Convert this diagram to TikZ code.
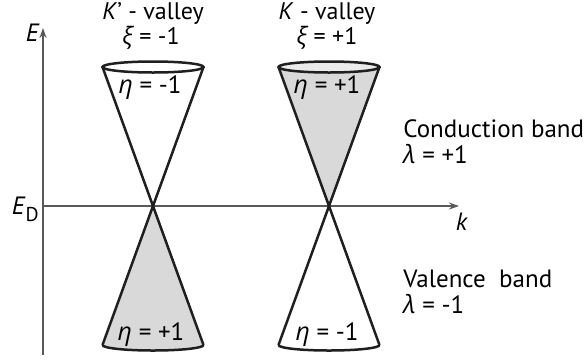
\documentclass[tikz,border=0pt]{standalone}
\usepackage{fontspec}
\setmainfont{PT Sans}
\newfontfamily\greekfont{Open Sans}
\newcommand{\gk}[1]{{\greekfont\itshape #1}}
\usetikzlibrary{arrows.meta}

\begin{document}
\begin{tikzpicture}[
      x=0.5pt, y=-0.5pt,
      axis/.style={draw=black!65, line width=0.8pt, -{Stealth[length=5pt, width=3.5pt]}},
      coneline/.style={draw=black!88, line width=1.25pt},
      band/.style={fill=black!15},
      rimfill/.style={fill=black!8},
      lbl/.style={font=\fontsize{12.5}{15}\selectfont, inner sep=0pt, anchor=base}
    ]
    \useasboundingbox (0,0) rectangle (587,360);

    % axes
    \coordinate (origin) at (43,355);
    \coordinate (etop) at (43,28);
    \coordinate (dleft) at (43,206);
    \coordinate (kend) at (459,206);
    \draw[axis] (origin) -- (etop);
    \draw[axis] (dleft) -- (kend);

    % Dirac points and cone rims
    \coordinate (kpdirac) at (153,206);
    \coordinate (kpcenter) at ([shift={(0,-139)}]kpdirac);
    \coordinate (kptl) at ([shift={(-50.5,-139)}]kpdirac);
    \coordinate (kptr) at ([shift={(50.5,-139)}]kpdirac);
    \coordinate (kpbl) at ([shift={(-50.5,139)}]kpdirac);
    \coordinate (kpbr) at ([shift={(50.5,139)}]kpdirac);

    \coordinate (kdirac) at (329,206);
    \coordinate (kcenter) at ([shift={(0,-139)}]kdirac);
    \coordinate (ktl) at ([shift={(-50.5,-139)}]kdirac);
    \coordinate (ktr) at ([shift={(50.5,-139)}]kdirac);
    \coordinate (kbl) at ([shift={(-50.5,139)}]kdirac);
    \coordinate (kbr) at ([shift={(50.5,139)}]kdirac);

    % filled halves
    \fill[band] (kpdirac) -- (kpbl) arc[start angle=180, end angle=0, x radius=50.5, y radius=5.5] -- cycle;
    \fill[band] (kdirac) -- (ktl) -- (ktr) -- cycle;
    \fill[rimfill] (kcenter) ellipse[x radius=50.5, y radius=5.5];

    % K' cone
    \draw[coneline] (kptl) -- (kpbr);
    \draw[coneline] (kptr) -- (kpbl);
    \draw[coneline] (kpcenter) ellipse[x radius=50.5, y radius=5.5];
    \draw[coneline] (kpbl) arc[start angle=180, end angle=0, x radius=50.5, y radius=5.5];

    % K cone
    \draw[coneline] (ktl) -- (kbr);
    \draw[coneline] (ktr) -- (kbl);
    \draw[coneline] (kcenter) ellipse[x radius=50.5, y radius=5.5];
    \draw[coneline] (kbl) arc[start angle=180, end angle=0, x radius=50.5, y radius=5.5];

    % labels
    \node[lbl, anchor=base east] (elabel) at (40,41) {\textit{E}};
    \node[lbl, anchor=base east] (edlabel) at (39,214) {\textit{E}\raisebox{-3.5pt}{\fontsize{10}{10}\selectfont D}};
    \node[lbl] (klabel) at (462,230) {\textit{k}};

    \node[lbl, font=\fontsize{12}{14}\selectfont] (kpname) at (153,19) {\textit{K}’ - valley};
    \node[lbl, font=\fontsize{12}{14}\selectfont] (kpxi) at (151,44) {\gk{ξ} = -1};
    \node[lbl, font=\fontsize{12}{14}\selectfont] (kname) at (327,19) {\textit{K} - valley};
    \node[lbl, font=\fontsize{12}{14}\selectfont] (kxi) at (327,44) {\gk{ξ} = +1};

    \node[lbl] (kpetaup) at (150,93) {\gk{η} = -1};
    \node[lbl] (ketaup) at (327,93) {\gk{η} = +1};
    \node[lbl] (kpetadown) at (151,340) {\gk{η} = +1};
    \node[lbl] (ketadown) at (327,340) {\gk{η} = -1};

    \node[lbl, anchor=base west] (cband) at (403,137) {Conduction band};
    \node[lbl, anchor=base west] (clambda) at (403,163) {\gk{λ} = +1};
    \node[lbl, anchor=base west] (vband) at (403,287) {Valence\ \ band};
    \node[lbl, anchor=base west] (vlambda) at (403,313) {\gk{λ} = -1};
  \end{tikzpicture}
\end{document}
